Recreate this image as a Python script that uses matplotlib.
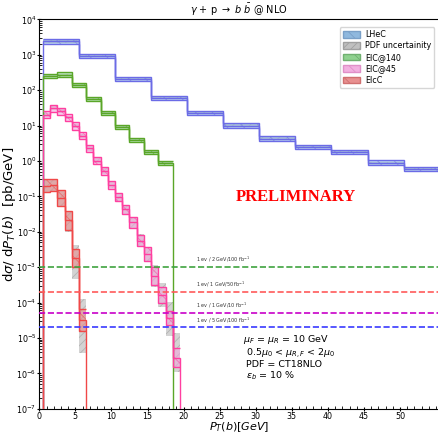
import numpy as np
import matplotlib
matplotlib.use('Agg')
import matplotlib.pyplot as plt
from matplotlib.patches import Patch
from matplotlib.ticker import LogLocator

# ---- data ----
lhec_edges = [0.5, 5.5, 10.5, 15.5, 20.5, 25.5, 30.5, 35.5, 40.5, 45.5, 50.5, 55.5]
lhec_val = [2370, 900, 204, 60, 22.4, 10.0, 4.3, 2.45, 1.78, 0.9, 0.59]
lhec_scale = [0.06] * 11          # half width in decades
lhec_pdf = [0.03] * 11

eic140_edges = [0.5, 2.5, 4.5, 6.5, 8.5, 10.5, 12.5, 14.5, 16.5, 18.5]
eic140_val = [250, 275, 138, 56, 23, 8.9, 4.0, 1.8, 0.87]
eic140_scale = [0.06] * 9
eic140_pdf = [0.03] * 9

eic45_edges = [0.5, 1.5, 2.5, 3.5, 4.5, 5.5, 6.5, 7.5, 8.5, 9.5, 10.5,
               11.5, 12.5, 13.5, 14.5, 15.5, 16.5, 17.5, 18.5, 19.5]
eic45_val = [20, 31, 25.5, 17, 9.7, 5.1, 2.25, 1.02, 0.52, 0.21, 0.095,
             0.043, 0.0186, 0.0056, 0.0023, 5.6e-4, 1.65e-4, 3.6e-5, 2.8e-6]
eic45_scale = [0.1, 0.1, 0.1, 0.1, 0.1, 0.1, 0.1, 0.1, 0.11, 0.12, 0.12,
               0.13, 0.15, 0.15, 0.2, 0.25, 0.22, 0.2, 0.28]
eic45_pdf_up = [0.05, 0.05, 0.05, 0.05, 0.05, 0.06, 0.06, 0.07, 0.08, 0.09, 0.1,
                0.12, 0.15, 0.18, 0.22, 0.3, 0.33, 0.45, 0.7]
eic45_pdf_dn = [0.05, 0.05, 0.05, 0.05, 0.05, 0.06, 0.06, 0.07, 0.08, 0.09, 0.1,
                0.12, 0.15, 0.18, 0.22, 0.3, 0.33, 0.5, 0.4]

eicc_edges = [0.5, 1.5, 2.5, 3.5, 4.5, 5.5, 6.5]
eicc_val = [0.2, 0.21, 0.091, 0.021, 1.8e-3, 3.2e-5]
eicc_scale = [0.18, 0.18, 0.22, 0.26, 0.25, 0.32]
eicc_pdf_up = [0.18, 0.18, 0.22, 0.26, 0.36, 0.59]
eicc_pdf_dn = [0.2, 0.2, 0.24, 0.33, 0.6, 0.93]

lumi_vals = [1e-3, 2e-4, 5e-5, 2e-5]
lumi_labels = [r'1 ev / 2 GeV/100 fb$^{-1}$', r'1 ev/ 1 GeV/50 fb$^{-1}$',
               r'1 ev / 1 GeV/10 fb$^{-1}$', r'1 ev / 5 GeV/100 fb$^{-1}$']
lumi_colors = ['#3fa33f', '#ff5a5a', '#c800c8', '#3a3aff']

series = [
    ('LHeC', lhec_edges, lhec_val, lhec_scale, lhec_pdf, lhec_pdf, '#6b6be6', '#8fb8de'),
    ('EIC@140', eic140_edges, eic140_val, eic140_scale, eic140_pdf, eic140_pdf, '#5aa628', '#8fd18f'),
    ('EIC@45', eic45_edges, eic45_val, eic45_scale, eic45_pdf_up, eic45_pdf_dn, '#ff3fa0', '#f2a8dc'),
    ('EIcC', eicc_edges, eicc_val, eicc_scale, eicc_pdf_up, eicc_pdf_dn, '#f04848', '#e88c8c'),
]

plt.rcParams['hatch.linewidth'] = 0.6
fig = plt.figure(figsize=(4.39, 4.34), dpi=100)
ax = fig.add_axes([0.0895, 0.058, 0.9105, 0.8975])
ax.set_yscale('log')

for name, edges, val, sc, pu, pd_, lc, fc in series:
    v = np.array(val)
    # PDF uncertainty (gray)
    ax.stairs(v * 10 ** np.array(pu), edges, baseline=v / 10 ** np.array(pd_), fill=True,
              facecolor='#b0b0b0', edgecolor='#999999', hatch='////', alpha=0.55, lw=0, zorder=2)
    # scale band
    ax.stairs(v * 10 ** np.array(sc), edges, baseline=v / 10 ** np.array(sc), fill=True,
              facecolor=fc, edgecolor=lc, hatch='\\\\', alpha=0.6, lw=0, zorder=3)
    ax.stairs(v * 10 ** np.array(sc), edges, color=lc, lw=1.0, baseline=None, zorder=4)
    ax.stairs(v / 10 ** np.array(sc), edges, color=lc, lw=1.0, baseline=None, zorder=4)
    ax.stairs(v, edges, color=lc, lw=1.0, baseline=1e-9, zorder=4)

for yv, lab, c in zip(lumi_vals, lumi_labels, lumi_colors):
    ax.axhline(yv, color=c, ls='--', lw=1.2, zorder=5)
    ax.text(21.7, yv * 1.2, lab, fontsize=3.5, color='#333333', va='bottom')

ax.set_xlim(0, 55.4)
ax.set_ylim(1e-7, 1e4)
ax.set_xticks(np.arange(0, 55, 5))
ax.set_xticks(np.arange(0, 56, 1), minor=True)
ax.yaxis.set_major_locator(LogLocator(base=10, numticks=20))
ax.yaxis.set_minor_locator(LogLocator(base=10, subs=np.arange(2, 10), numticks=20))
ax.tick_params(which='major', direction='inout', length=3.5, labelsize=5.8, pad=0.2)
ax.tick_params(which='minor', direction='in', length=2)
ax.spines['right'].set_visible(False)

ax.set_title(r'$\gamma$ + p $\rightarrow$ $b\ \bar{b}$ @ NLO', fontsize=7, pad=4)
ax.set_xlabel(r'$P_T(b) [GeV]$', fontsize=8)
ax.xaxis.set_label_coords(0.5, -0.028)
ax.set_ylabel(r'd$\sigma$/ d$P_T(b)$  [pb/GeV]', fontsize=9.5, labelpad=-1)

ax.text(0.492, 0.545, 'PRELIMINARY', transform=ax.transAxes, color='red',
        fontsize=12, fontweight='bold', family='Liberation Serif', va='center')
ax.text(0.51, 0.178, r'$\mu_F$ = $\mu_R$ = 10 GeV', transform=ax.transAxes, fontsize=6.8, va='center')
ax.text(0.518, 0.144, r'0.5$\mu_0$ < $\mu_{R,F}$ < 2$\mu_0$', transform=ax.transAxes, fontsize=6.8, va='center')
ax.text(0.518, 0.115, 'PDF = CT18NLO', transform=ax.transAxes, fontsize=6.8, va='center')
ax.text(0.518, 0.086, r'$\epsilon_b$ = 10 %', transform=ax.transAxes, fontsize=6.8, va='center')

handles = [
    Patch(facecolor='#8fb8de', edgecolor='#7aa0c8', hatch='\\\\', label='LHeC'),
    Patch(facecolor='#c0c0c0', edgecolor='#a0a0a0', hatch='////', label='PDF uncertainity'),
    Patch(facecolor='#8fd18f', edgecolor='#70b070', hatch='\\\\', label='EIC@140'),
    Patch(facecolor='#f2b0e0', edgecolor='#e090c8', hatch='\\\\', label='EIC@45'),
    Patch(facecolor='#e89090', edgecolor='#d07070', hatch='\\\\', label='EIcC'),
]
ax.legend(handles=handles, loc='upper right', bbox_to_anchor=(0.998, 0.99), fontsize=5.8,
          frameon=True, handlelength=2.2, handleheight=0.9, labelspacing=0.3, borderpad=0.35,
          handletextpad=0.6)

fig.savefig('out.png', dpi=100)
